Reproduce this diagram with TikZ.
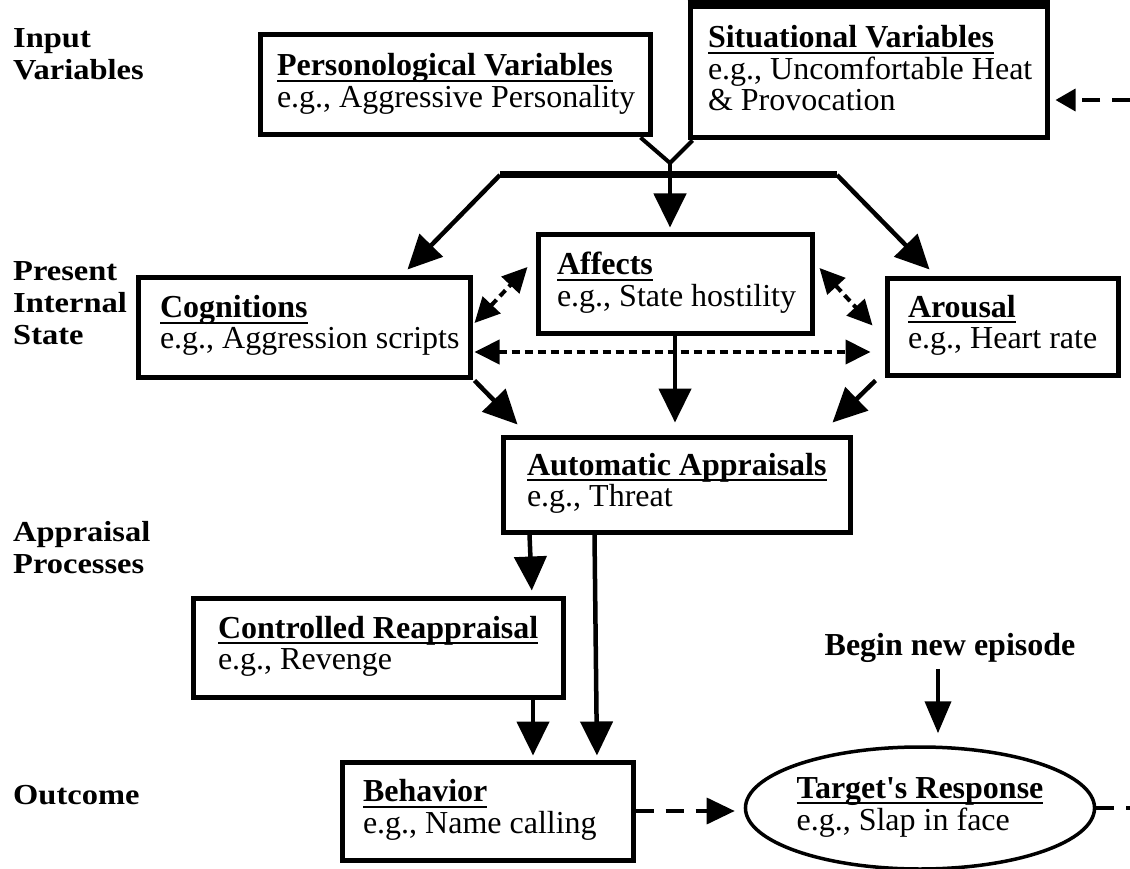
\documentclass[tikz,border=0pt]{standalone}
\usepackage{fontspec}
\setmainfont{Liberation Serif}
\usetikzlibrary{arrows.meta,calc,shapes.geometric}
\newcommand\uln[1]{\setbox0\hbox{#1}\rlap{\rule[-6pt]{\wd0}{2pt}}\box0}
\newcommand\boxtext[3]{\makebox[#1][l]{\begin{tabular}{@{}l@{}}\textbf{\uln{#2}}\\#3\end{tabular}}}
\newcommand\boxtextiii[4]{\makebox[#1][l]{\begin{tabular}{@{}l@{}}\textbf{\uln{#2}}\\#3\\#4\end{tabular}}}
\newcommand\lbltext[1]{\scalebox{1.12}[1]{\begin{tabular}[t]{@{}l@{}}#1\end{tabular}}}
\begin{document}
\begin{tikzpicture}[x=1pt,y=-1pt,
  box/.style={draw, line width=5pt, inner ysep=0pt, font=\fontsize{32}{31}\selectfont},
  lbl/.style={anchor=base west, inner sep=0pt, font=\bfseries\fontsize{29}{32}\selectfont},
  big/.style={line width=4.5pt, -{Triangle[length=34pt,width=32pt]}},
  dbl/.style={line width=4pt, dash pattern=on 8pt off 5pt, {Triangle[length=25pt,width=24pt]}-{Triangle[length=25pt,width=24pt]}},
  longdash/.style={line width=3.5pt, dash pattern=on 18pt off 12pt},
]
\fill[white] (0,0) rectangle (1130,869);
\useasboundingbox (0,0) rectangle (1130,869);

% left labels
\node[lbl] (l1) at (13,48) {\lbltext{Input\\Variables}};
\node[lbl] (l2) at (13,280) {\lbltext{Present\\Internal\\State}};
\node[lbl] (l3) at (13,541) {\lbltext{Appraisal\\Processes}};
\node[lbl] (l4) at (13,804) {\lbltext{Outcome}};

% boxes
\node[box, inner xsep=17pt, minimum height=100pt] (pers) at (455,85)
  {\boxtext{356pt}{Personological Variables}{e.g., Aggressive Personality}};
\node[box, inner xsep=18pt, minimum height=131pt] (sit) at (868.5,72.5)
  {\boxtextiii{321pt}{Situational Variables}{e.g., Uncomfortable Heat}{\& Provocation}};
\draw[line width=8pt] (sit.north west) -- (sit.north east);
\node[box, inner xsep=22pt, minimum height=100pt] (cog) at (304,327)
  {\boxtext{288pt}{Cognitions}{e.g., Aggression scripts}};
\node[box, inner xsep=19pt, minimum height=98pt] (aff) at (675,284)
  {\boxtext{236pt}{Affects}{e.g., State hostility}};
\node[box, inner xsep=21pt, minimum height=97pt] (aro) at (1002.5,326.5)
  {\boxtext{189pt}{Arousal}{e.g., Heart rate}};
\node[box, inner xsep=24pt, minimum height=95pt] (auto) at (676.5,484.5)
  {\boxtext{299pt}{Automatic Appraisals}{e.g., Threat}};
\node[box, inner xsep=25pt, minimum height=99pt] (ctrl) at (378,647.5)
  {\boxtext{320pt}{Controlled Reappraisal}{e.g., Revenge}};
\node[box, inner xsep=21pt, minimum height=98pt] (beh) at (487.5,811)
  {\boxtext{249pt}{Behavior}{e.g., Name calling}};
\node[draw, ellipse, line width=3.5pt, minimum width=298pt, minimum height=122pt, inner sep=0pt,
      font=\fontsize{32}{31}\selectfont] (tgt) at (920,808)
  {\begin{tabular}{@{}l@{}}\textbf{\uln{Target\textquotesingle s Response}}\\e.g., Slap in face\end{tabular}};
\node[inner sep=0pt, font=\bfseries\fontsize{32}{31}\selectfont] (begin) at (950,648) {Begin new episode};

% top merge
\coordinate (vtip) at (670,163);
\coordinate (barL) at (500,175);
\coordinate (barM) at (670,175);
\coordinate (barR) at (837,175);
\draw[line width=4pt, line join=miter] ([xshift=-12pt]pers.south east) -- (vtip) -- ([xshift=5pt]sit.south west);
\draw[line width=4pt] (vtip) -- (barM);
\draw[line width=7pt] (barL) -- (barR);
\draw[big, shorten >=5pt] (barM) -- (barM |- aff.north);
\draw[big] (barL) -- ([xshift=-65pt,yshift=5pt]cog.north east);
\draw[big] (barR) -- ([xshift=45pt,yshift=6pt]aro.north west);

% internal state interactions
\draw[dbl] ([xshift=2pt,yshift=4pt]cog.east) -- ([xshift=-8pt,yshift=17pt]aff.west);
\draw[dbl] ([xshift=5pt,yshift=16pt]aff.east) -- ([xshift=-12pt,yshift=1pt]aro.west);
\draw[dbl] ([xshift=2pt,yshift=-25pt]cog.east) -- ([xshift=-14pt,yshift=-25.5pt]aro.west);

% into appraisal
\draw[big] ([xshift=2pt,yshift=-1pt]cog.south east) -- ([xshift=17pt,yshift=10pt]auto.north west);
\draw[big] ([xshift=-9pt,yshift=-3pt]aro.south west) -- ([xshift=-20pt,yshift=12pt]auto.north east);
\draw[big, shorten >=12pt] (aff.south) -- (aff.south |- auto.north);

% appraisal to outcome
\draw[big, shorten >=5pt] ([xshift=29pt]auto.south west) -- ([xshift=154pt]ctrl.north);
\draw[big, shorten >=4pt] ([xshift=94pt]auto.south west) -- ([xshift=109.5pt]beh.north);
\draw[big, shorten >=4pt] ([xshift=155pt]ctrl.south) -- ([xshift=45.5pt]beh.north);

% outcome loop
\draw[longdash, -{Triangle[length=28pt,width=26pt]}, shorten >=9pt] (beh.east) -- (beh.east -| tgt.west);
\coordinate (rend) at (1130,808);
\draw[longdash] (tgt.east) -- (rend);
\coordinate (rtop) at (1130,100);
\draw[longdash, -{Triangle[length=20pt,width=22pt]}, shorten >=6pt] (rtop) -- (rtop -| sit.east);
\draw[line width=4pt, -{Triangle[length=32pt,width=26pt]}, shorten <=6pt, shorten >=12pt]
  ([xshift=-12pt]begin.south) -- ([xshift=18pt]tgt.north);
\end{tikzpicture}
\end{document}
